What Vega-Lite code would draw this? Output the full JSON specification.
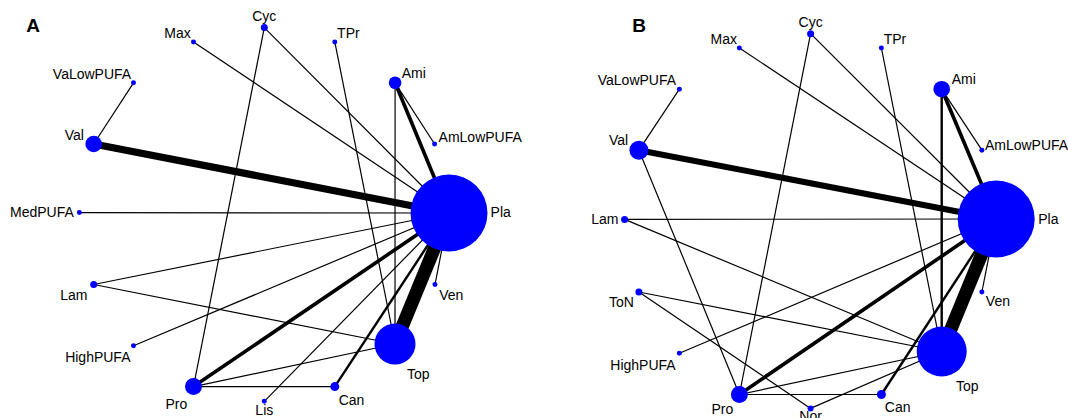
{
  "$schema": "https://vega.github.io/schema/vega-lite/v6.json",
  "width": 1068,
  "height": 418,
  "autosize": {"type": "none"},
  "padding": 0,
  "background": "white",
  "config": {"view": {"stroke": null}},
  "datasets": {
    "nodes": [
      {"id": "A-Pla", "name": "Pla", "x": 449, "y": 213, "n": 100, "lx": 500.7, "ly": 212.9},
      {"id": "A-AmLowPUFA", "name": "AmLowPUFA", "x": 434.6, "y": 144, "n": 0.42, "lx": 480.2, "ly": 138},
      {"id": "A-Ami", "name": "Ami", "x": 395.1, "y": 82.8, "n": 2.68, "lx": 413.8, "ly": 74.3},
      {"id": "A-TPr", "name": "TPr", "x": 334.8, "y": 41.9, "n": 0.42, "lx": 348.4, "ly": 34},
      {"id": "A-Cyc", "name": "Cyc", "x": 264.3, "y": 27.6, "n": 0.83, "lx": 264.3, "ly": 17},
      {"id": "A-Max", "name": "Max", "x": 193.5, "y": 41.9, "n": 0.42, "lx": 177.5, "ly": 34},
      {"id": "A-VaLowPUFA", "name": "VaLowPUFA", "x": 133.5, "y": 82.8, "n": 0.42, "lx": 92, "ly": 75},
      {"id": "A-Val", "name": "Val", "x": 93.7, "y": 144, "n": 4.65, "lx": 74.3, "ly": 135.6},
      {"id": "A-MedPUFA", "name": "MedPUFA", "x": 79.4, "y": 212.6, "n": 0.42, "lx": 41.9, "ly": 212.9},
      {"id": "A-Lam", "name": "Lam", "x": 93.7, "y": 284.5, "n": 0.83, "lx": 73.9, "ly": 296.4},
      {"id": "A-HighPUFA", "name": "HighPUFA", "x": 133.5, "y": 345.8, "n": 0.42, "lx": 97.8, "ly": 358.4},
      {"id": "A-Pro", "name": "Pro", "x": 193.5, "y": 386.6, "n": 4.87, "lx": 176.4, "ly": 405},
      {"id": "A-Lis", "name": "Lis", "x": 264.3, "y": 401.3, "n": 0.42, "lx": 264.3, "ly": 410.5},
      {"id": "A-Can", "name": "Can", "x": 334.8, "y": 386.6, "n": 1.37, "lx": 351.5, "ly": 401},
      {"id": "A-Top", "name": "Top", "x": 395, "y": 344, "n": 28.4, "lx": 418.3, "ly": 375.4},
      {"id": "A-Ven", "name": "Ven", "x": 435, "y": 284.5, "n": 0.42, "lx": 451.3, "ly": 296.4},
      {"id": "B-Pla", "name": "Pla", "x": 996.2, "y": 219, "n": 100, "lx": 1048.3, "ly": 219.8},
      {"id": "B-AmLowPUFA", "name": "AmLowPUFA", "x": 981.9, "y": 150.2, "n": 0.42, "lx": 1026.5, "ly": 145.8},
      {"id": "B-Ami", "name": "Ami", "x": 941.7, "y": 89.2, "n": 4.65, "lx": 963.8, "ly": 80.4},
      {"id": "B-TPr", "name": "TPr", "x": 881.4, "y": 48, "n": 0.42, "lx": 895, "ly": 40.2},
      {"id": "B-Cyc", "name": "Cyc", "x": 810.6, "y": 33.7, "n": 0.83, "lx": 810.6, "ly": 23.2},
      {"id": "B-Max", "name": "Max", "x": 739.4, "y": 48, "n": 0.42, "lx": 723.7, "ly": 40.2},
      {"id": "B-VaLowPUFA", "name": "VaLowPUFA", "x": 679.4, "y": 89.2, "n": 0.42, "lx": 636.9, "ly": 81},
      {"id": "B-Val", "name": "Val", "x": 638.9, "y": 150.2, "n": 6.09, "lx": 618.5, "ly": 140.7},
      {"id": "B-Lam", "name": "Lam", "x": 624.6, "y": 219.4, "n": 0.83, "lx": 604.8, "ly": 219.8},
      {"id": "B-ToN", "name": "ToN", "x": 638.9, "y": 292, "n": 0.83, "lx": 621.5, "ly": 303.2},
      {"id": "B-HighPUFA", "name": "HighPUFA", "x": 679.4, "y": 353.3, "n": 0.42, "lx": 643, "ly": 366.2},
      {"id": "B-Pro", "name": "Pro", "x": 739.4, "y": 394.5, "n": 4.87, "lx": 722.3, "ly": 410},
      {"id": "B-Nor", "name": "Nor", "x": 810.6, "y": 408.4, "n": 0.61, "lx": 810.6, "ly": 417},
      {"id": "B-Can", "name": "Can", "x": 881.4, "y": 394.5, "n": 1.37, "lx": 897.7, "ly": 407.5},
      {"id": "B-Top", "name": "Top", "x": 941.7, "y": 351.5, "n": 42.2, "lx": 967.2, "ly": 386.6},
      {"id": "B-Ven", "name": "Ven", "x": 981.9, "y": 292, "n": 0.42, "lx": 997.9, "ly": 302}
    ],
    "edges": [
      {"a": "A-Val", "b": "A-VaLowPUFA", "k": 1},
      {"a": "A-Val", "b": "A-Pla", "k": 6},
      {"a": "A-Max", "b": "A-Pla", "k": 1},
      {"a": "A-Cyc", "b": "A-Pla", "k": 1},
      {"a": "A-Cyc", "b": "A-Pro", "k": 1},
      {"a": "A-TPr", "b": "A-Top", "k": 1},
      {"a": "A-Ami", "b": "A-Pla", "k": 3},
      {"a": "A-Ami", "b": "A-AmLowPUFA", "k": 1},
      {"a": "A-Ami", "b": "A-Top", "k": 1},
      {"a": "A-MedPUFA", "b": "A-Pla", "k": 1},
      {"a": "A-Lam", "b": "A-Pla", "k": 1},
      {"a": "A-Lam", "b": "A-Top", "k": 1},
      {"a": "A-HighPUFA", "b": "A-Pla", "k": 1},
      {"a": "A-Pro", "b": "A-Pla", "k": 3},
      {"a": "A-Pro", "b": "A-Top", "k": 1},
      {"a": "A-Pro", "b": "A-Can", "k": 1},
      {"a": "A-Lis", "b": "A-Pla", "k": 1},
      {"a": "A-Can", "b": "A-Pla", "k": 2},
      {"a": "A-Top", "b": "A-Pla", "k": 11},
      {"a": "A-Ven", "b": "A-Pla", "k": 1},
      {"a": "B-Val", "b": "B-VaLowPUFA", "k": 1},
      {"a": "B-Val", "b": "B-Pla", "k": 5},
      {"a": "B-Val", "b": "B-Pro", "k": 1},
      {"a": "B-Max", "b": "B-Pla", "k": 1},
      {"a": "B-Cyc", "b": "B-Pla", "k": 1},
      {"a": "B-Cyc", "b": "B-Pro", "k": 1},
      {"a": "B-TPr", "b": "B-Top", "k": 1},
      {"a": "B-Ami", "b": "B-Pla", "k": 3},
      {"a": "B-Ami", "b": "B-AmLowPUFA", "k": 1},
      {"a": "B-Ami", "b": "B-Top", "k": 2},
      {"a": "B-Lam", "b": "B-Pla", "k": 1},
      {"a": "B-Lam", "b": "B-Top", "k": 1},
      {"a": "B-ToN", "b": "B-Top", "k": 1},
      {"a": "B-ToN", "b": "B-Nor", "k": 1},
      {"a": "B-HighPUFA", "b": "B-Pla", "k": 1},
      {"a": "B-Pro", "b": "B-Pla", "k": 3},
      {"a": "B-Pro", "b": "B-Top", "k": 1},
      {"a": "B-Pro", "b": "B-Can", "k": 1},
      {"a": "B-Nor", "b": "B-Top", "k": 1},
      {"a": "B-Can", "b": "B-Pla", "k": 2},
      {"a": "B-Top", "b": "B-Pla", "k": 11},
      {"a": "B-Ven", "b": "B-Pla", "k": 1}
    ],
    "panels": [
      {"panel": "A", "x": 33, "y": 26},
      {"panel": "B", "x": 639, "y": 26}
    ]
  },
  "layer": [
    {
      "data": {"name": "edges"},
      "transform": [
        {"lookup": "a", "from": {"data": {"name": "nodes"}, "key": "id", "fields": ["x", "y"]}, "as": ["x1", "y1"]},
        {"lookup": "b", "from": {"data": {"name": "nodes"}, "key": "id", "fields": ["x", "y"]}, "as": ["x2", "y2"]}
      ],
      "mark": {"type": "rule", "color": "black", "strokeCap": "butt"},
      "encoding": {
        "x": {"field": "x1", "type": "quantitative", "scale": {"domain": [0, 1068], "nice": false, "zero": false}, "axis": null},
        "y": {"field": "y1", "type": "quantitative", "scale": {"domain": [0, 418], "nice": false, "zero": false, "reverse": true}, "axis": null},
        "x2": {"field": "x2"},
        "y2": {"field": "y2"},
        "strokeWidth": {"field": "k", "type": "quantitative", "scale": {"domain": [0, 11], "range": [0, 13.2]}, "legend": null}
      }
    },
    {
      "data": {"name": "nodes"},
      "mark": {"type": "circle", "color": "#0000ff", "opacity": 1},
      "encoding": {
        "x": {"field": "x", "type": "quantitative"},
        "y": {"field": "y", "type": "quantitative"},
        "size": {"field": "n", "type": "quantitative", "scale": {"domain": [0, 100], "range": [0, 5929]}, "legend": null}
      }
    },
    {
      "data": {"name": "nodes"},
      "mark": {"type": "text", "font": "Liberation Sans", "fontSize": 14, "color": "black", "align": "center", "baseline": "middle"},
      "encoding": {
        "x": {"field": "lx", "type": "quantitative"},
        "y": {"field": "ly", "type": "quantitative"},
        "text": {"field": "name"}
      }
    },
    {
      "data": {"name": "panels"},
      "mark": {"type": "text", "font": "Liberation Sans", "fontSize": 19, "fontWeight": "bold", "color": "black", "align": "center", "baseline": "middle"},
      "encoding": {
        "x": {"field": "x", "type": "quantitative"},
        "y": {"field": "y", "type": "quantitative"},
        "text": {"field": "panel"}
      }
    }
  ]
}
